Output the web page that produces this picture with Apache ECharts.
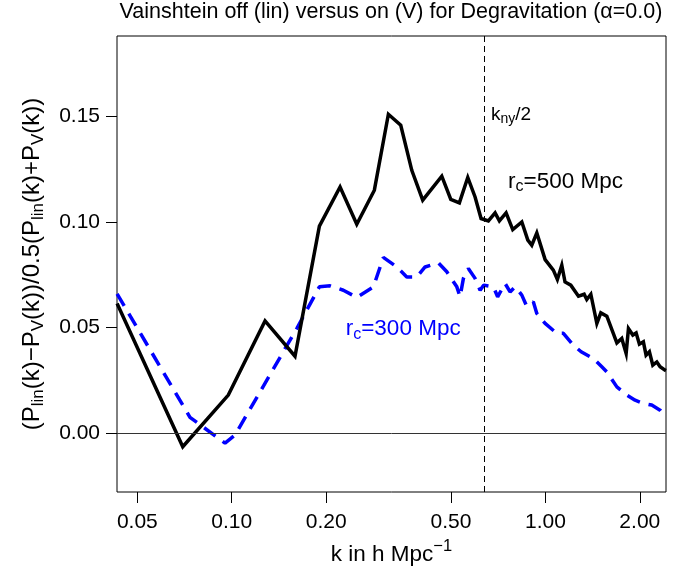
<!DOCTYPE html>
<html>
<head>
<meta charset="utf-8">
<script src="https://cdn.jsdelivr.net/npm/echarts@6/dist/echarts.min.js"></script>
<style>
html,body{margin:0;padding:0;background:#fff;}
#chart{width:685px;height:573px;}
</style>
</head>
<body>
<div id="chart"></div>
<script>
// ---- data ----
const titleText = 'Vainshtein off (lin) versus on (V) for Degravitation (\u03b1=0.0)';
const xTicks = [0.05, 0.1, 0.2, 0.5, 1, 2];
const yTicks = [0, 0.05, 0.1, 0.15];
const kNyHalf = 0.637;

const k500 = [0.0431, 0.0698, 0.0975, 0.1277, 0.1591, 0.1903, 0.2215, 0.2504, 0.2849, 0.3158, 0.3458, 0.375, 0.4064, 0.4674, 0.4993, 0.5318, 0.5656, 0.5968, 0.6237, 0.658, 0.6912, 0.7134, 0.7494, 0.787, 0.8411, 0.879, 0.905, 0.939, 0.998, 1.06, 1.092, 1.128, 1.155, 1.205, 1.275, 1.329, 1.355, 1.396, 1.459, 1.502, 1.57, 1.69, 1.752, 1.809, 1.84, 1.9, 1.947, 1.994, 2.053, 2.094, 2.146, 2.2, 2.266, 2.321, 2.408, 2.424];
const v500 = [0.0614, -0.0063, 0.0181, 0.0532, 0.0365, 0.098, 0.1165, 0.0989, 0.115, 0.1509, 0.1457, 0.1244, 0.1103, 0.1216, 0.1106, 0.109, 0.121, 0.1118, 0.1016, 0.1005, 0.1043, 0.1005, 0.1043, 0.0964, 0.1, 0.0914, 0.089, 0.0948, 0.0822, 0.0772, 0.0728, 0.0795, 0.0716, 0.0701, 0.0649, 0.0658, 0.0633, 0.0658, 0.052, 0.057, 0.0554, 0.0428, 0.0449, 0.0378, 0.0496, 0.0465, 0.0475, 0.0422, 0.0433, 0.037, 0.0386, 0.0323, 0.0338, 0.0315, 0.0299, 0.0297];

const k300 = [0.0431, 0.0736, 0.0952, 0.1024, 0.1612, 0.1903, 0.2059, 0.2269, 0.2504, 0.2829, 0.3043, 0.3358, 0.3614, 0.389, 0.4134, 0.456, 0.485, 0.522, 0.5346, 0.5478, 0.568, 0.5968, 0.6193, 0.6355, 0.6827, 0.7043, 0.7438, 0.7717, 0.8013, 0.8411, 0.8714, 0.9152, 0.939, 0.998, 1.0875, 1.1412, 1.228, 1.3, 1.422, 1.513, 1.57, 1.69, 1.818, 1.932, 2.053, 2.183, 2.321, 2.424];
const v300 = [0.066, 0.0076, -0.0046, -0.0008, 0.0496, 0.0693, 0.0698, 0.0677, 0.0643, 0.0693, 0.0832, 0.0787, 0.074, 0.074, 0.0787, 0.0806, 0.0764, 0.0693, 0.0646, 0.0733, 0.078, 0.0733, 0.0677, 0.0701, 0.0693, 0.0646, 0.0709, 0.0669, 0.0693, 0.0654, 0.0602, 0.0622, 0.0567, 0.052, 0.0473, 0.0473, 0.0417, 0.0386, 0.0354, 0.0315, 0.0291, 0.022, 0.0181, 0.0157, 0.0142, 0.0134, 0.011, 0.0075];

const xMin = 0.04307, xMax = 2.424;
const yMin = -0.0277, yMax = 0.1879;

const FONT = 'Liberation Sans, Arial, Helvetica, sans-serif';

const pairs = (ks, vs) => ks.map((k, i) => [k, vs[i]]);

const chart = echarts.init(document.getElementById('chart'), null, {renderer: 'canvas'});
chart.setOption({
  animation: false,
  backgroundColor: '#ffffff',
  title: {
    text: titleText,
    left: 391, top: 1, textAlign: 'center', padding: 0,
    textStyle: {fontFamily: FONT, fontSize: 21.5, fontWeight: 'normal', color: '#000'}
  },
  grid: {left: 117, right: 19, top: 36, bottom: 81, show: true, borderColor: '#000', borderWidth: 1,
    backgroundColor: 'transparent', outerBoundsMode: 'none', containLabel: false},
  xAxis: {
    type: 'log', logBase: 10, min: xMin, max: xMax,
    splitLine: {show: false},
    axisLine: {show: false, onZero: false},
    axisTick: {show: true, inside: false, length: 11, lineStyle: {color: '#000', width: 1}, customValues: xTicks},
    axisLabel: {show: true, customValues: xTicks, margin: 20, fontFamily: FONT, fontSize: 21, color: '#000',
      formatter: v => Number(v).toFixed(2)},
    name: '{n|k in h Mpc}{sup|\u22121}',
    nameLocation: 'middle', nameGap: 45,
    nameTextStyle: {
      rich: {
        n: {fontFamily: FONT, fontSize: 22.5, color: '#000', lineHeight: 28, verticalAlign: 'bottom'},
        sup: {fontFamily: FONT, fontSize: 16.5, color: '#000', lineHeight: 28, verticalAlign: 'top', padding: [0, 0, 10, 0]}
      }
    }
  },
  yAxis: {
    type: 'value', min: yMin, max: yMax,
    splitLine: {show: false},
    axisLine: {show: false, onZero: false},
    axisTick: {show: true, length: 11, lineStyle: {color: '#000', width: 1}, customValues: yTicks},
    axisLabel: {show: true, customValues: yTicks, margin: 17, fontFamily: FONT, fontSize: 21, color: '#000',
      formatter: v => Number(v).toFixed(2)},
    name: '{n|(P}{s|lin}{n|(k)\u2212P}{s|V}{n|(k))/0.5(P}{s|lin}{n|(k)+P}{s|V}{n|(k))}',
    nameLocation: 'middle', nameGap: 70, nameRotate: 90,
    nameTextStyle: {
      rich: {
        n: {fontFamily: FONT, fontSize: 24, color: '#000', lineHeight: 30},
        s: {fontFamily: FONT, fontSize: 17, color: '#000', lineHeight: 30, padding: [12, 0, 0, 0]}
      }
    }
  },
  series: [
    {
      name: 'rc500', type: 'line', data: pairs(k500, v500),
      showSymbol: false, symbol: 'none', clip: true,
      lineStyle: {color: '#000', width: 3.5, join: 'miter'},
      z: 3,
      markLine: {
        silent: true, symbol: 'none', animation: false,
        label: {show: false},
        data: [
          {xAxis: kNyHalf, lineStyle: {color: '#000', width: 1, type: [6, 4]}},
          {yAxis: 0, lineStyle: {color: '#333', width: 1, type: 'solid'}}
        ]
      },
      markPoint: {
        symbol: 'circle', symbolSize: 0, silent: true,
        data: [
          {coord: [0.671, 0.1505], label: {show: true, position: 'right', distance: 0, formatter: '{n|k}{s|ny}{n|/2}',
            rich: {n: {fontFamily: FONT, fontSize: 19, color: '#000', lineHeight: 24}, s: {fontFamily: FONT, fontSize: 14, color: '#000', lineHeight: 24, padding: [9, 0, 0, 0]}}}},
          {coord: [0.7605, 0.1192], label: {show: true, position: 'right', distance: 0, formatter: '{n|r}{s|c}{n|=500 Mpc}',
            rich: {n: {fontFamily: FONT, fontSize: 22.5, color: '#000', lineHeight: 28}, s: {fontFamily: FONT, fontSize: 16, color: '#000', lineHeight: 28, padding: [11, 0, 0, 0]}}}}
        ]
      }
    },
    {
      name: 'rc300', type: 'line', data: pairs(k300, v300),
      showSymbol: false, symbol: 'none', clip: true,
      lineStyle: {color: '#0000ff', width: 3.5, type: [14, 9]},
      z: 2,
      markPoint: {
        symbol: 'circle', symbolSize: 0, silent: true,
        data: [
          {coord: [0.2309, 0.0493], label: {show: true, position: 'right', distance: 0, formatter: '{n|r}{s|c}{n|=300 Mpc}',
            rich: {n: {fontFamily: FONT, fontSize: 22.5, color: '#0000ff', lineHeight: 28}, s: {fontFamily: FONT, fontSize: 16, color: '#0000ff', lineHeight: 28, padding: [11, 0, 0, 0]}}}}
        ]
      }
    }
  ]
});
</script>
</body>
</html>
